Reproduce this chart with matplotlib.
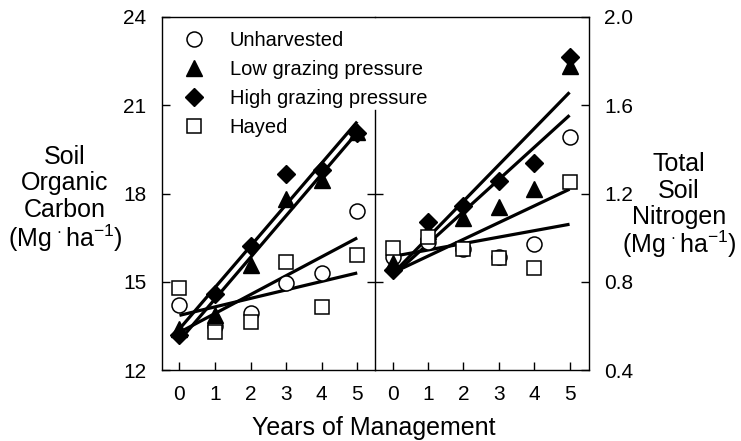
import numpy as np
import matplotlib
matplotlib.use("Agg")
import matplotlib.pyplot as plt

plt.rcParams['font.family'] = ['Liberation Sans', 'DejaVu Sans']
plt.rcParams['mathtext.fontset'] = 'custom'
plt.rcParams['mathtext.rm'] = 'Liberation Sans'
plt.rcParams['mathtext.it'] = 'Liberation Sans:italic'

# ---- data ----
years = [0, 1, 2, 3, 4, 5]
series = ["Unharvested", "Low grazing pressure", "High grazing pressure", "Hayed"]

soc_unharvested = [14.21, 13.50, 13.93, 14.95, 15.30, 17.42]
soc_low_grazing = [13.40, 13.87, 15.57, 17.83, 18.45, 20.10]
soc_high_grazing = [13.20, 14.60, 16.20, 18.66, 18.80, 20.05]
soc_hayed = [14.80, 13.30, 13.64, 15.68, 14.15, 15.90]

tsn_unharvested = [0.912, 0.980, 0.950, 0.912, 0.970, 1.456]
tsn_low_grazing = [0.885, 1.030, 1.088, 1.140, 1.220, 1.780]
tsn_high_grazing = [0.853, 1.070, 1.145, 1.256, 1.340, 1.820]
tsn_hayed = [0.953, 1.004, 0.948, 0.909, 0.862, 1.250]

soc_ticks = [12, 15, 18, 21, 24]
tsn_ticks = [0.4, 0.8, 1.2, 1.6, 2.0]
tsn_tick_labels = ["0.4", "0.8", "1.2", "1.6", "2.0"]
divider_ticks = [15, 18]

xlabel = "Years of Management"
soc_label_lines = ["Soil", "Organic", "Carbon", "(Mg$^{\\,\\cdot}$ha$^{-1}$)"]
tsn_label_lines = ["Total", "Soil", "Nitrogen", "(Mg$^{\\,\\cdot}$ha$^{-1}$)"]

styles = [
    dict(marker='o', ms=10.8, mfc='white', mec='black', mew=1.1),
    dict(marker='^', ms=11, mfc='black', mec='black', mew=1.0),
    dict(marker='D', ms=9.5, mfc='black', mec='black', mew=1.0),
    dict(marker='s', ms=9.8, mfc='white', mec='black', mew=1.1),
]

fig = plt.figure(figsize=(7.41, 4.41), dpi=100)
W, H = 741, 441
x0, xm, x1 = 161.7, 375.0, 589.0
yb, yt = 370.0, 17.0
axR = fig.add_axes([xm / W, 1 - yb / H, (x1 - xm) / W, (yb - yt) / H])
axL = fig.add_axes([x0 / W, 1 - yb / H, (xm - x0) / W, (yb - yt) / H])
axR.set_zorder(1)
axL.set_zorder(2)
axL.patch.set_alpha(0)

xx = np.array(years, dtype=float)

def draw(ax, data):
    handles = []
    for y in data:
        k, b = np.polyfit(xx, y, 1)
        ax.plot(xx, k * xx + b, color='black', lw=2.3, zorder=2, solid_capstyle='butt')
    for lab, y, st in zip(series, data, styles):
        h, = ax.plot(xx, y, ls='none', label=lab, zorder=3, **st)
        handles.append(h)
    return handles

handles = draw(axL, [soc_unharvested, soc_low_grazing, soc_high_grazing, soc_hayed])
draw(axR, [tsn_unharvested, tsn_low_grazing, tsn_high_grazing, tsn_hayed])

# left axes
axL.set_xlim(-0.5, 5.5)
axL.set_ylim(12, 24)
axL.set_yticks(soc_ticks)
axL.set_xticks(years)
axL.spines['right'].set_visible(False)
for s in axL.spines.values():
    s.set_linewidth(1.0)
axL.tick_params(axis='y', direction='in', length=6, width=1, labelsize=15, pad=11, right=False)
axL.tick_params(axis='x', direction='in', length=6, width=1, labelsize=15, pad=11, top=False)

# divider between panels
div_top = 20.84
axL.axvline(5.5, ymin=0, ymax=(div_top - 12) / 12, color='black', lw=1.0, clip_on=False, zorder=4)
axL.plot([5.5] * len(divider_ticks), divider_ticks, ls='none', marker='_', ms=11.5,
         mew=1.0, color='black', clip_on=False, zorder=4)

# right axes
axR.set_xlim(-0.5, 5.55)
axR.set_ylim(0.4, 2.0)
axR.set_yticks(tsn_ticks)
axR.set_yticklabels(tsn_tick_labels)
axR.set_xticks(years)
axR.spines['left'].set_visible(False)
for s in axR.spines.values():
    s.set_linewidth(1.0)
axR.yaxis.tick_right()
axR.tick_params(axis='y', direction='in', length=6, width=1, labelsize=15, pad=11, left=False)
axR.tick_params(axis='x', direction='in', length=6, width=1, labelsize=15, pad=11, top=False)

# legend
leg = axL.legend(handles=handles, loc='upper left', bbox_to_anchor=(0.03, 1.0), frameon=False,
                 fontsize=14.5, numpoints=1, handlelength=1.2, handletextpad=1.15,
                 labelspacing=0.5, borderaxespad=0.3)
leg.set_zorder(5)

# axis labels (one text per line)
fig.text(373.5 / W, 1 - 428 / H, xlabel, ha='center', va='center', fontsize=18)
offsets = [0, 26.5, 53, 82.5]
for off, line in zip(offsets, soc_label_lines):
    fig.text(65 / W, 1 - (164 + off) / H, line, ha='center', va='baseline', fontsize=18)
for off, line in zip(offsets, tsn_label_lines):
    fig.text(679 / W, 1 - (171 + off) / H, line, ha='center', va='baseline', fontsize=18)

fig.savefig("out.png", dpi=100)
